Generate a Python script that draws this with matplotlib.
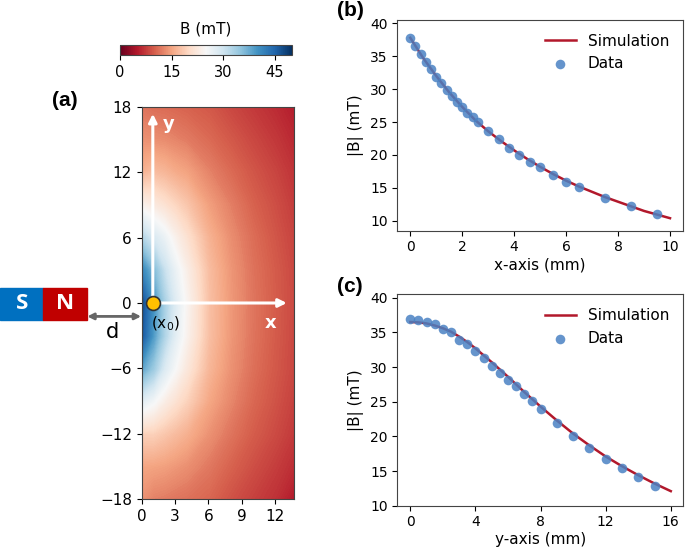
import numpy as np
import matplotlib
matplotlib.use("Agg")
import matplotlib.pyplot as plt
from matplotlib.patches import Rectangle

# ---- field map (a): |B| in mT ----
map_x = [0, 1, 2, 3, 4, 6, 8, 10, 12, 14]
map_y = [-18, -15, -12, -9, -6, -3, 0, 3, 6, 9, 12, 15, 18]
map_B = [
    [13.5, 12.3, 12.0, 11.6, 11.3, 10.5, 9.0, 7.8, 6.7, 4.6],
    [15.0, 14.8, 14.5, 13.9, 13.3, 11.8, 10.2, 8.8, 7.6, 6.2],
    [19.0, 19.0, 18.0, 17.0, 16.0, 13.5, 11.5, 9.8, 8.5, 7.1],
    [27.5, 25.5, 23.0, 21.0, 19.2, 15.2, 12.7, 10.6, 9.1, 7.6],
    [38.0, 34.0, 28.5, 25.0, 22.0, 16.6, 13.5, 11.2, 9.5, 8.0],
    [46.0, 39.0, 32.5, 27.5, 23.8, 17.4, 13.9, 11.5, 9.7, 8.1],
    [47.0, 40.0, 33.0, 28.0, 24.2, 17.5, 14.0, 11.6, 9.8, 8.2],
    [41.0, 36.0, 30.5, 26.5, 23.2, 17.2, 13.8, 11.4, 9.7, 8.1],
    [32.0, 29.0, 26.5, 23.5, 21.0, 16.2, 13.2, 11.0, 9.3, 7.8],
    [23.5, 22.3, 21.0, 19.5, 18.0, 14.5, 12.2, 10.2, 8.8, 7.3],
    [16.0, 17.1, 16.5, 15.5, 14.8, 12.5, 10.8, 9.3, 8.1, 6.7],
    [13.5, 13.2, 13.0, 12.5, 12.0, 10.8, 9.5, 8.3, 7.2, 5.9],
    [11.5, 11.0, 10.8, 10.5, 10.2, 9.5, 8.3, 7.3, 6.3, 5.0],
]

# ---- (b) along x ----
bx_data = [0, 0.2, 0.4, 0.6, 0.8, 1.0, 1.2, 1.4, 1.6, 1.8, 2.0, 2.2, 2.4, 2.6,
           3.0, 3.4, 3.8, 4.2, 4.6, 5.0, 5.5, 6.0, 6.5, 7.5, 8.5, 9.5]
bB_data = [37.7, 36.5, 35.3, 34.1, 33.0, 31.9, 31.0, 29.9, 29.0, 28.1, 27.3, 26.4, 25.7, 25.0,
           23.7, 22.4, 21.1, 20.0, 19.0, 18.1, 17.0, 15.9, 15.1, 13.5, 12.2, 11.0]
bx_sim = [0, 0.5, 1, 1.5, 2, 2.5, 3, 3.5, 4, 4.5, 5, 5.5, 6, 6.5, 7, 7.5, 8, 8.5, 9, 9.5, 10]
bB_sim = [37.8, 34.7, 32.0, 29.5, 27.3, 25.3, 23.6, 22.1, 20.7, 19.4, 18.2, 17.1, 16.1,
          15.2, 14.4, 13.6, 12.9, 12.2, 11.5, 10.95, 10.4]

# ---- (c) along y ----
cy_data = [0, 0.5, 1, 1.5, 2, 2.5, 3, 3.5, 4, 4.5, 5, 5.5, 6, 6.5, 7, 7.5, 8,
           9, 10, 11, 12, 13, 14, 15]
cB_data = [37.0, 36.8, 36.5, 36.2, 35.5, 35.0, 33.9, 33.4, 32.3, 31.3, 30.2, 29.2, 28.2,
           27.2, 26.1, 25.1, 24.0, 22.0, 20.0, 18.3, 16.7, 15.4, 14.1, 12.9]
cy_sim = [0, 0.5, 1, 1.5, 2, 2.5, 3, 3.5, 4, 5, 6, 7, 8, 9, 10, 11, 12, 13, 14, 15, 16]
cB_sim = [36.5, 36.45, 36.3, 36.0, 35.6, 35.1, 34.4, 33.6, 32.7, 30.7, 28.6, 26.4, 24.3,
          22.3, 20.4, 18.7, 17.1, 15.7, 14.4, 13.2, 12.1]

W, H = 685, 547
fig = plt.figure(figsize=(W / 100, H / 100), dpi=100)

def frac(l, t, r, b):
    return [l / W, 1 - b / H, (r - l) / W, (b - t) / H]

spine_col = '#444444'

# (a) heat map
ax = fig.add_axes(frac(141.7, 106.7, 294, 499.3))
cs = ax.contourf(map_x, map_y, np.array(map_B), levels=np.linspace(0, 50, 251),
                 cmap='RdBu', vmin=0, vmax=50)
cs.set_edgecolor('face')
ax.set_xlim(0, 13.7)
ax.set_ylim(-18, 18)
ax.set_xticks([0, 3, 6, 9, 12])
ax.set_yticks([-18, -12, -6, 0, 6, 12, 18])
ax.tick_params(labelsize=11)
for s in ax.spines.values():
    s.set_color(spine_col)

ax.annotate('', xy=(1, 17.6), xytext=(1, 0),
            arrowprops=dict(arrowstyle='-|>', color='white', lw=2.2, mutation_scale=12))
ax.annotate('', xy=(13.3, 0), xytext=(1, 0),
            arrowprops=dict(arrowstyle='-|>', color='white', lw=2.2, mutation_scale=12))
ax.text(2.4, 16.4, 'y', color='white', fontsize=13, fontweight='bold', ha='center', va='center')
ax.text(11.6, -1.8, 'x', color='white', fontsize=13, fontweight='bold', ha='center', va='center')
ax.plot([1], [0], 'o', color='#FFC000', mec='#333333', mew=1.2, ms=10, zorder=5)
ax.text(2.1, -1.9, '(x$_0$)', fontsize=11, ha='center', va='center')

# magnet and distance arrow, outside the axes
ax.add_patch(Rectangle((-12.75, -1.53), 3.88, 2.93, color='#0070C0', clip_on=False))
ax.add_patch(Rectangle((-8.87, -1.53), 3.95, 2.93, color='#C00000', clip_on=False))
ax.text(-10.8, -0.05, 'S', color='white', fontsize=16, fontweight='bold',
        family='Open Sans', ha='center', va='center', clip_on=False)
ax.text(-6.9, -0.05, 'N', color='white', fontsize=16, fontweight='bold',
        family='Open Sans', ha='center', va='center', clip_on=False)
ax.annotate('', xy=(-0.05, -1.23), xytext=(-4.9, -1.23), annotation_clip=False,
            arrowprops=dict(arrowstyle='<|-|>', color='#666666', lw=2, mutation_scale=9,
                            shrinkA=0, shrinkB=0))
ax.text(-2.67, -2.7, 'd', fontsize=15, ha='center', va='center', clip_on=False)

# colour bar
cax = fig.add_axes(frac(120, 45, 292, 55))
cb = fig.colorbar(plt.cm.ScalarMappable(norm=plt.Normalize(0, 50), cmap='RdBu'),
                  cax=cax, orientation='horizontal', ticks=[0, 15, 30, 45])
cb.set_label('B (mT)', fontsize=11, labelpad=8)
cax.xaxis.set_label_position('top')
cax.tick_params(labelsize=10.5)
cb.outline.set_edgecolor(spine_col)

def profile(axp, xd, Bd, xs, Bs, xlabel, xlim, ylim, xticks):
    axp.plot(xs, Bs, color='#B2182B', lw=1.8, label='Simulation', zorder=2)
    axp.scatter(xd, Bd, s=48, color='#4a82c3', alpha=0.85, lw=0, label='Data', zorder=3)
    axp.set_xlim(*xlim)
    axp.set_ylim(*ylim)
    axp.set_xticks(xticks)
    axp.set_yticks([10, 15, 20, 25, 30, 35, 40])
    axp.set_xlabel(xlabel, fontsize=11, labelpad=2)
    axp.set_ylabel('|B| (mT)', fontsize=11)
    axp.tick_params(labelsize=10)
    for s in axp.spines.values():
        s.set_color(spine_col)
    axp.legend(loc='upper right', frameon=False, fontsize=11)

axb = fig.add_axes(frac(397.3, 20, 683, 230.7))
profile(axb, bx_data, bB_data, bx_sim, bB_sim, 'x-axis (mm)', (-0.5, 10.5), (8.5, 40.5),
        [0, 2, 4, 6, 8, 10])

axc = fig.add_axes(frac(397.3, 294.3, 683, 505.7))
profile(axc, cy_data, cB_data, cy_sim, cB_sim, 'y-axis (mm)', (-0.8, 16.75), (10, 40.5),
        [0, 4, 8, 12, 16])

for lab, px, py in [('(a)', 65, 101), ('(b)', 350, 11), ('(c)', 350, 286)]:
    fig.text(px / W, 1 - py / H, lab, fontsize=15, fontweight='bold',
             family='Liberation Sans', ha='center', va='center')

fig.savefig('out.png', dpi=100)
